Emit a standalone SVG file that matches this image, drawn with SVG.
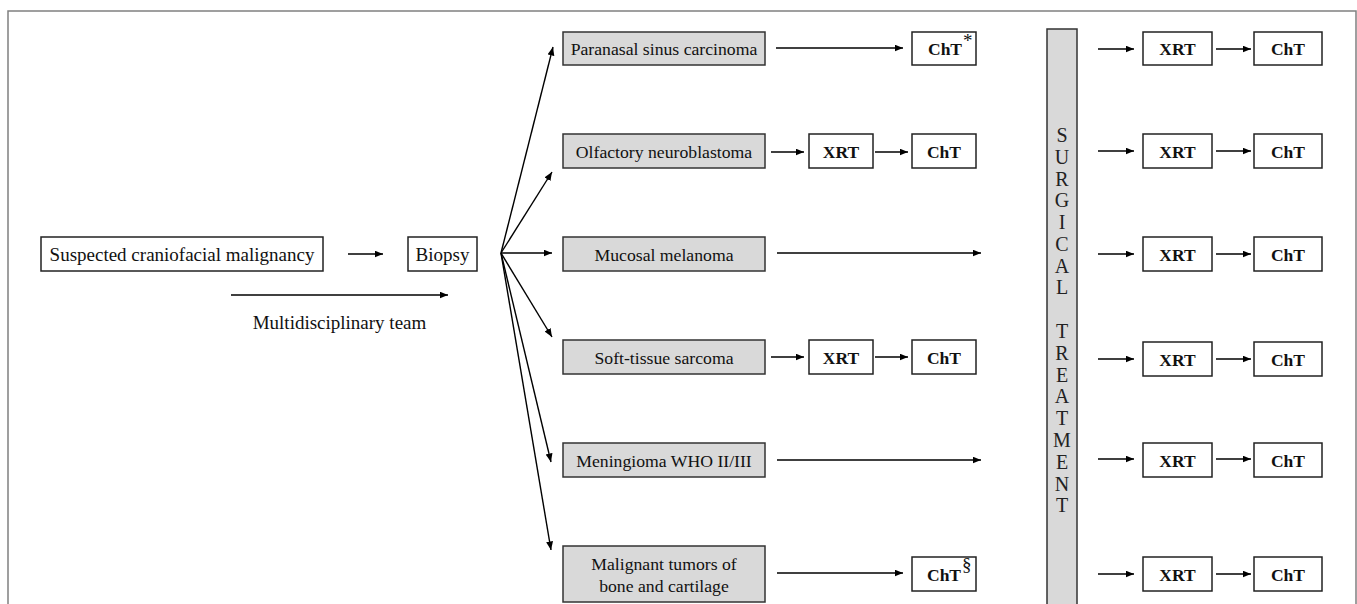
<svg xmlns="http://www.w3.org/2000/svg" width="1357" height="604" viewBox="0 0 1357 604">
<defs>
<marker id="ah" markerUnits="userSpaceOnUse" markerWidth="9" markerHeight="8" refX="8.5" refY="3.5" orient="auto">
<path d="M0,0 L8.5,3.5 L0,7 z" fill="#000"/>
</marker>
<style>
.frame{fill:none;stroke:#808080;stroke-width:1.5}
.wb{fill:#fff;stroke:#222;stroke-width:1.5}
.gb{fill:#d9d9d9;stroke:#333;stroke-width:1.5}
.t{font-family:"Liberation Serif","Times New Roman",serif;font-size:19px;fill:#111}
.g{font-family:"Liberation Serif","Times New Roman",serif;font-size:17.7px;fill:#111}
.b{font-family:"Liberation Serif","Times New Roman",serif;font-size:17.5px;font-weight:bold;fill:#111}
.s{font-family:"Liberation Serif","Times New Roman",serif;font-size:20px;fill:#222}
.c line{stroke:#000;stroke-width:1.4;marker-end:url(#ah)}
</style>
</defs>
<rect x="0" y="0" width="1357" height="604" fill="#fff"/>
<path class="frame" d="M8,610 L8,11 L1356,11 L1356,610"/>

<g id="suspected"><rect class="wb" x="41" y="237" width="282" height="34"/><text class="t" x="182" y="261" text-anchor="middle">Suspected craniofacial malignancy</text></g>
<g id="biopsy"><rect class="wb" x="408" y="237" width="69" height="34"/><text class="t" x="442.5" y="261" text-anchor="middle">Biopsy</text></g>
<g id="team-label"><text class="t" x="339.5" y="329" text-anchor="middle">Multidisciplinary team</text></g>

<g id="paranasal"><rect class="gb" x="563" y="32" width="202" height="33"/><text class="g" x="664" y="55" text-anchor="middle">Paranasal sinus carcinoma</text></g>
<g id="olfactory"><rect class="gb" x="563" y="134" width="202" height="34"/><text class="g" x="664" y="158" text-anchor="middle">Olfactory neuroblastoma</text></g>
<g id="mucosal"><rect class="gb" x="563" y="237" width="202" height="34"/><text class="g" x="664" y="261" text-anchor="middle">Mucosal melanoma</text></g>
<g id="softtissue"><rect class="gb" x="563" y="340" width="202" height="34"/><text class="g" x="664" y="364" text-anchor="middle">Soft-tissue sarcoma</text></g>
<g id="meningioma"><rect class="gb" x="563" y="443" width="202" height="34"/><text class="g" x="664" y="467" text-anchor="middle">Meningioma WHO II/III</text></g>
<g id="malignant"><rect class="gb" x="563" y="546" width="202" height="56"/><text class="g" x="664" y="570" text-anchor="middle">Malignant tumors of</text><text class="g" x="664" y="592" text-anchor="middle">bone and cartilage</text></g>

<g id="cht-star"><rect class="wb" x="912" y="32" width="64" height="33"/><text class="b" x="928" y="55">ChT</text><text class="t" x="963" y="47" font-size="14">*</text></g>
<g id="xrt-olf"><rect class="wb" x="809" y="134" width="64" height="34"/><text class="b" x="841" y="158" text-anchor="middle">XRT</text></g>
<g id="cht-olf"><rect class="wb" x="912" y="134" width="64" height="34"/><text class="b" x="944" y="158" text-anchor="middle">ChT</text></g>
<g id="xrt-soft"><rect class="wb" x="809" y="340" width="64" height="34"/><text class="b" x="841" y="364" text-anchor="middle">XRT</text></g>
<g id="cht-soft"><rect class="wb" x="912" y="340" width="64" height="34"/><text class="b" x="944" y="364" text-anchor="middle">ChT</text></g>
<g id="cht-sect"><rect class="wb" x="912" y="557" width="64" height="34"/><text class="b" x="927" y="581">ChT</text><text class="t" x="962" y="571" font-size="14">§</text></g>

<g id="surgical"><rect class="gb" x="1047" y="29" width="30" height="590"/>
<text class="s" text-anchor="middle"><tspan x="1062" y="142">S</tspan><tspan x="1062" y="164">U</tspan><tspan x="1062" y="186">R</tspan><tspan x="1062" y="207">G</tspan><tspan x="1062" y="229">I</tspan><tspan x="1062" y="251">C</tspan><tspan x="1062" y="273">A</tspan><tspan x="1062" y="294">L</tspan><tspan x="1062" y="338">T</tspan><tspan x="1062" y="360">R</tspan><tspan x="1062" y="382">E</tspan><tspan x="1062" y="403">A</tspan><tspan x="1062" y="425">T</tspan><tspan x="1062" y="447">M</tspan><tspan x="1062" y="469">E</tspan><tspan x="1062" y="491">N</tspan><tspan x="1062" y="512">T</tspan></text></g>

<g id="xrt-r1"><rect class="wb" x="1143" y="32" width="69" height="33"/><text class="b" x="1177.5" y="55" text-anchor="middle">XRT</text></g>
<g id="cht-r1"><rect class="wb" x="1254" y="32" width="68" height="33"/><text class="b" x="1288" y="55" text-anchor="middle">ChT</text></g>
<g id="xrt-r2"><rect class="wb" x="1143" y="134" width="69" height="34"/><text class="b" x="1177.5" y="158" text-anchor="middle">XRT</text></g>
<g id="cht-r2"><rect class="wb" x="1254" y="134" width="68" height="34"/><text class="b" x="1288" y="158" text-anchor="middle">ChT</text></g>
<g id="xrt-r3"><rect class="wb" x="1143" y="237" width="69" height="34"/><text class="b" x="1177.5" y="261" text-anchor="middle">XRT</text></g>
<g id="cht-r3"><rect class="wb" x="1254" y="237" width="68" height="34"/><text class="b" x="1288" y="261" text-anchor="middle">ChT</text></g>
<g id="xrt-r4"><rect class="wb" x="1143" y="342" width="69" height="34"/><text class="b" x="1177.5" y="366" text-anchor="middle">XRT</text></g>
<g id="cht-r4"><rect class="wb" x="1254" y="342" width="68" height="34"/><text class="b" x="1288" y="366" text-anchor="middle">ChT</text></g>
<g id="xrt-r5"><rect class="wb" x="1143" y="443" width="69" height="34"/><text class="b" x="1177.5" y="467" text-anchor="middle">XRT</text></g>
<g id="cht-r5"><rect class="wb" x="1254" y="443" width="68" height="34"/><text class="b" x="1288" y="467" text-anchor="middle">ChT</text></g>
<g id="xrt-r6"><rect class="wb" x="1143" y="557" width="69" height="34"/><text class="b" x="1177.5" y="581" text-anchor="middle">XRT</text></g>
<g id="cht-r6"><rect class="wb" x="1254" y="557" width="68" height="34"/><text class="b" x="1288" y="581" text-anchor="middle">ChT</text></g>

<g id="connectors" class="c">
<line x1="348" y1="254" x2="383" y2="254"/>
<line x1="231" y1="295" x2="448" y2="295"/>
<line x1="501" y1="253" x2="553" y2="47"/>
<line x1="501" y1="253" x2="552" y2="172"/>
<line x1="501" y1="253" x2="552" y2="253"/>
<line x1="501" y1="253" x2="552" y2="337"/>
<line x1="501" y1="253" x2="551" y2="462"/>
<line x1="501" y1="253" x2="551" y2="550"/>
<line x1="776" y1="48" x2="903" y2="48"/>
<line x1="771" y1="152" x2="804" y2="152"/>
<line x1="875" y1="152" x2="908" y2="152"/>
<line x1="777" y1="253" x2="981" y2="253"/>
<line x1="771" y1="357" x2="804" y2="357"/>
<line x1="875" y1="357" x2="908" y2="357"/>
<line x1="777" y1="460" x2="981" y2="460"/>
<line x1="777" y1="573" x2="903" y2="573"/>
<line x1="1098" y1="49" x2="1134" y2="49"/>
<line x1="1216" y1="49" x2="1251" y2="49"/>
<line x1="1098" y1="151" x2="1134" y2="151"/>
<line x1="1216" y1="151" x2="1251" y2="151"/>
<line x1="1098" y1="254" x2="1134" y2="254"/>
<line x1="1216" y1="254" x2="1251" y2="254"/>
<line x1="1098" y1="359" x2="1134" y2="359"/>
<line x1="1216" y1="359" x2="1251" y2="359"/>
<line x1="1098" y1="459" x2="1134" y2="459"/>
<line x1="1216" y1="459" x2="1251" y2="459"/>
<line x1="1098" y1="574" x2="1134" y2="574"/>
<line x1="1216" y1="574" x2="1251" y2="574"/>
</g>
</svg>
